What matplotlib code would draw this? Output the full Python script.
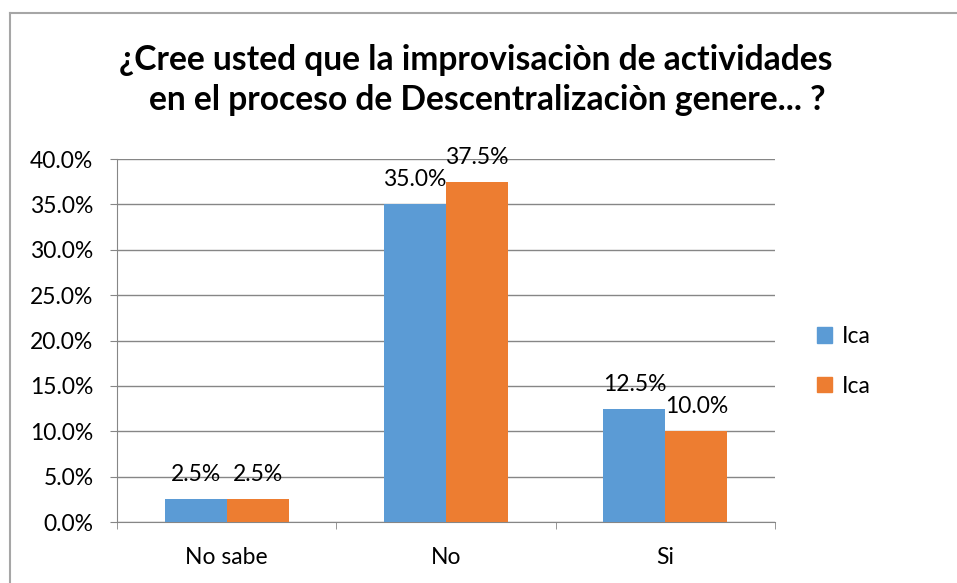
import matplotlib.pyplot as plt
import numpy as np
from matplotlib.patches import Patch

categories = ["No sabe", "No", "Si"]
ica_blue = [0.025, 0.35, 0.125]
ica_orange = [0.025, 0.375, 0.10]
series_names = ["Ica", "Ica"]
y_ticks = [0.0, 0.05, 0.10, 0.15, 0.20, 0.25, 0.30, 0.35, 0.40]
title_lines = [
    "¿Cree usted que la improvisaciòn de actividades",
    "en el proceso de Descentralizaciòn genere... ?",
]

BLUE = "#5B9BD5"
ORANGE = "#ED7D31"
GRID = "#868686"
FONT_SIZE = 16.5

plt.rcParams["font.family"] = ["Lato", "DejaVu Sans"]

fig = plt.figure(figsize=(9.57, 5.83), dpi=100)
axis = fig.add_axes([0.1223, 0.1046, 0.6876, 0.6226])

x = np.arange(len(categories))
width = 0.283
bars_a = axis.bar(x - width / 2, ica_blue, width, color=BLUE, zorder=3)
bars_b = axis.bar(x + width / 2, ica_orange, width, color=ORANGE, zorder=3)

for bars, values in ((bars_a, ica_blue), (bars_b, ica_orange)):
    for bar, value in zip(bars, values):
        axis.annotate(
            f"{value * 100:.1f}%",
            (bar.get_x() + bar.get_width() / 2, value),
            xytext=(0, 13),
            textcoords="offset points",
            ha="center",
            va="baseline",
            fontsize=FONT_SIZE,
            zorder=4,
        )

axis.set_xlim(-0.5, 2.5)
axis.set_ylim(0, 0.40)
axis.set_yticks(y_ticks)
axis.set_yticklabels([f"{t * 100:.1f}%" for t in y_ticks], fontsize=FONT_SIZE)
axis.set_xticks(x)
axis.set_xticklabels(categories, fontsize=FONT_SIZE)
axis.set_xticks([-0.5, 0.5, 1.5, 2.5], minor=True)
axis.tick_params(axis="x", which="major", length=0, pad=18)
axis.tick_params(axis="x", which="minor", length=5, color=GRID, direction="out")
axis.tick_params(axis="y", length=5, color=GRID, pad=12)
axis.grid(axis="y", color=GRID, linewidth=1, zorder=0)

for side in ("top", "right"):
    axis.spines[side].set_visible(False)
for side in ("left", "bottom"):
    axis.spines[side].set_color(GRID)

handles = [Patch(color=BLUE), Patch(color=ORANGE)]
fig.legend(
    handles,
    series_names,
    loc="center left",
    bbox_to_anchor=(0.832, 0.380),
    frameon=False,
    fontsize=FONT_SIZE,
    handlelength=0.65,
    handleheight=0.65,
    handletextpad=0.45,
    labelspacing=1.25,
)

fig.text(0.497, 0.880, title_lines[0], ha="center", va="baseline",
         fontsize=24.2, fontweight="bold")
fig.text(0.509, 0.811, title_lines[1], ha="center", va="baseline",
         fontsize=24.2, fontweight="bold")

# chart area border (top and left visible)
fig.add_artist(plt.Line2D([0.0105, 1.0], [0.978, 0.978], color="#A6A6A6", linewidth=1.5))
fig.add_artist(plt.Line2D([0.0105, 0.0105], [0.0, 0.978], color="#A6A6A6", linewidth=1.5))

fig.savefig("out.png", dpi=100)
plt.close(fig)
